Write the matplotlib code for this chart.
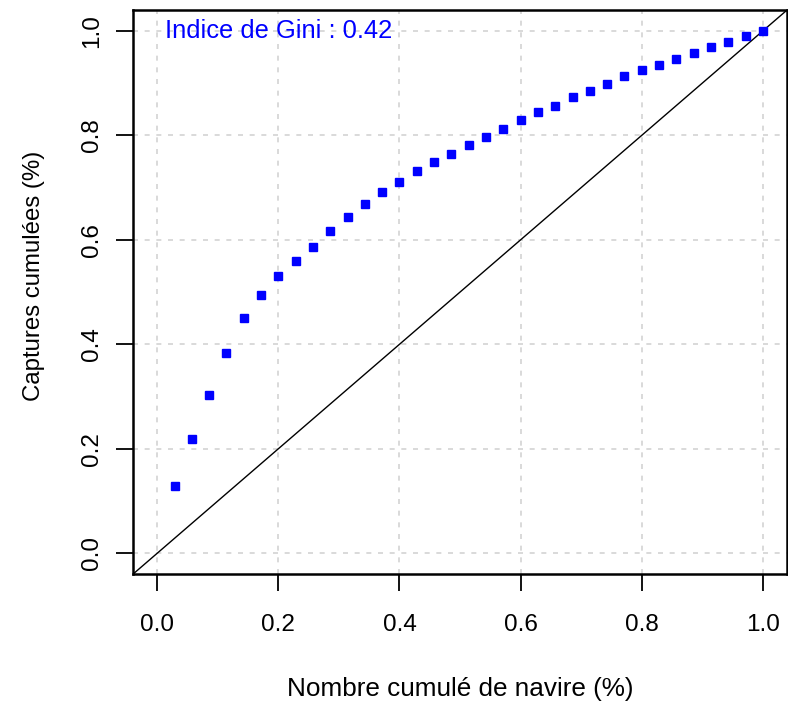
import matplotlib
matplotlib.use("Agg")
import matplotlib.pyplot as plt
import numpy as np

plt.rcParams['font.family'] = ['Liberation Sans', 'DejaVu Sans']

# Courbe de Lorenz : part cumulée des navires / part cumulée des captures
n_navires = 35
rang = np.arange(1, n_navires + 1)
captures_cum = [0.128, 0.218, 0.302, 0.384, 0.450, 0.494, 0.531, 0.559, 0.587,
                0.616, 0.643, 0.668, 0.692, 0.711, 0.732, 0.749, 0.765, 0.781,
                0.797, 0.813, 0.830, 0.845, 0.857, 0.873, 0.885, 0.898, 0.914,
                0.926, 0.935, 0.946, 0.958, 0.970, 0.978, 0.991, 1.000]
gini = 0.42
ticks = [0.0, 0.2, 0.4, 0.6, 0.8, 1.0]

navires_cum = rang / n_navires

fig = plt.figure(figsize=(7.88, 7.01), dpi=100)
ax = fig.add_axes([0.1688, 0.181, 0.8300, 0.8047])

ax.set_xlim(-0.04, 1.04)
ax.set_ylim(-0.04, 1.04)

# grille grise pointillee
for t in ticks:
    ax.axvline(t, color='#d3d3d3', linestyle=(0, (3, 4)), linewidth=1.2, zorder=0)
    ax.axhline(t, color='#d3d3d3', linestyle=(0, (3, 4)), linewidth=1.2, zorder=0)

# droite d'egalite parfaite
ax.plot([-0.04, 1.04], [-0.04, 1.04], color='black', linewidth=1.0, zorder=1)

ax.plot(navires_cum, captures_cum, linestyle='none', marker='s', markersize=6.2,
        color='#0000ff', zorder=2)

ax.text(0.012, 1.0, f"Indice de Gini : {gini}", color='#0000ff', fontsize=18.4,
        ha='left', va='center')

ax.set_xticks(ticks)
ax.set_yticks(ticks)
ax.set_xticklabels([f"{t:.1f}" for t in ticks])
ax.set_yticklabels([f"{t:.1f}" for t in ticks], rotation=90, va='center')
ax.tick_params(axis='both', direction='out', length=12, width=1.3,
               labelsize=17.5)
ax.tick_params(axis='x', pad=17)
ax.tick_params(axis='y', pad=9.5)

for s in ax.spines.values():
    s.set_linewidth(1.8)

ax.set_xlabel("Nombre cumulé de navire (%)", fontsize=18.8, labelpad=29)
ax.set_ylabel("Captures cumulées (%)", fontsize=17.3, labelpad=26, y=0.528)

fig.savefig("out.png", dpi=100)
